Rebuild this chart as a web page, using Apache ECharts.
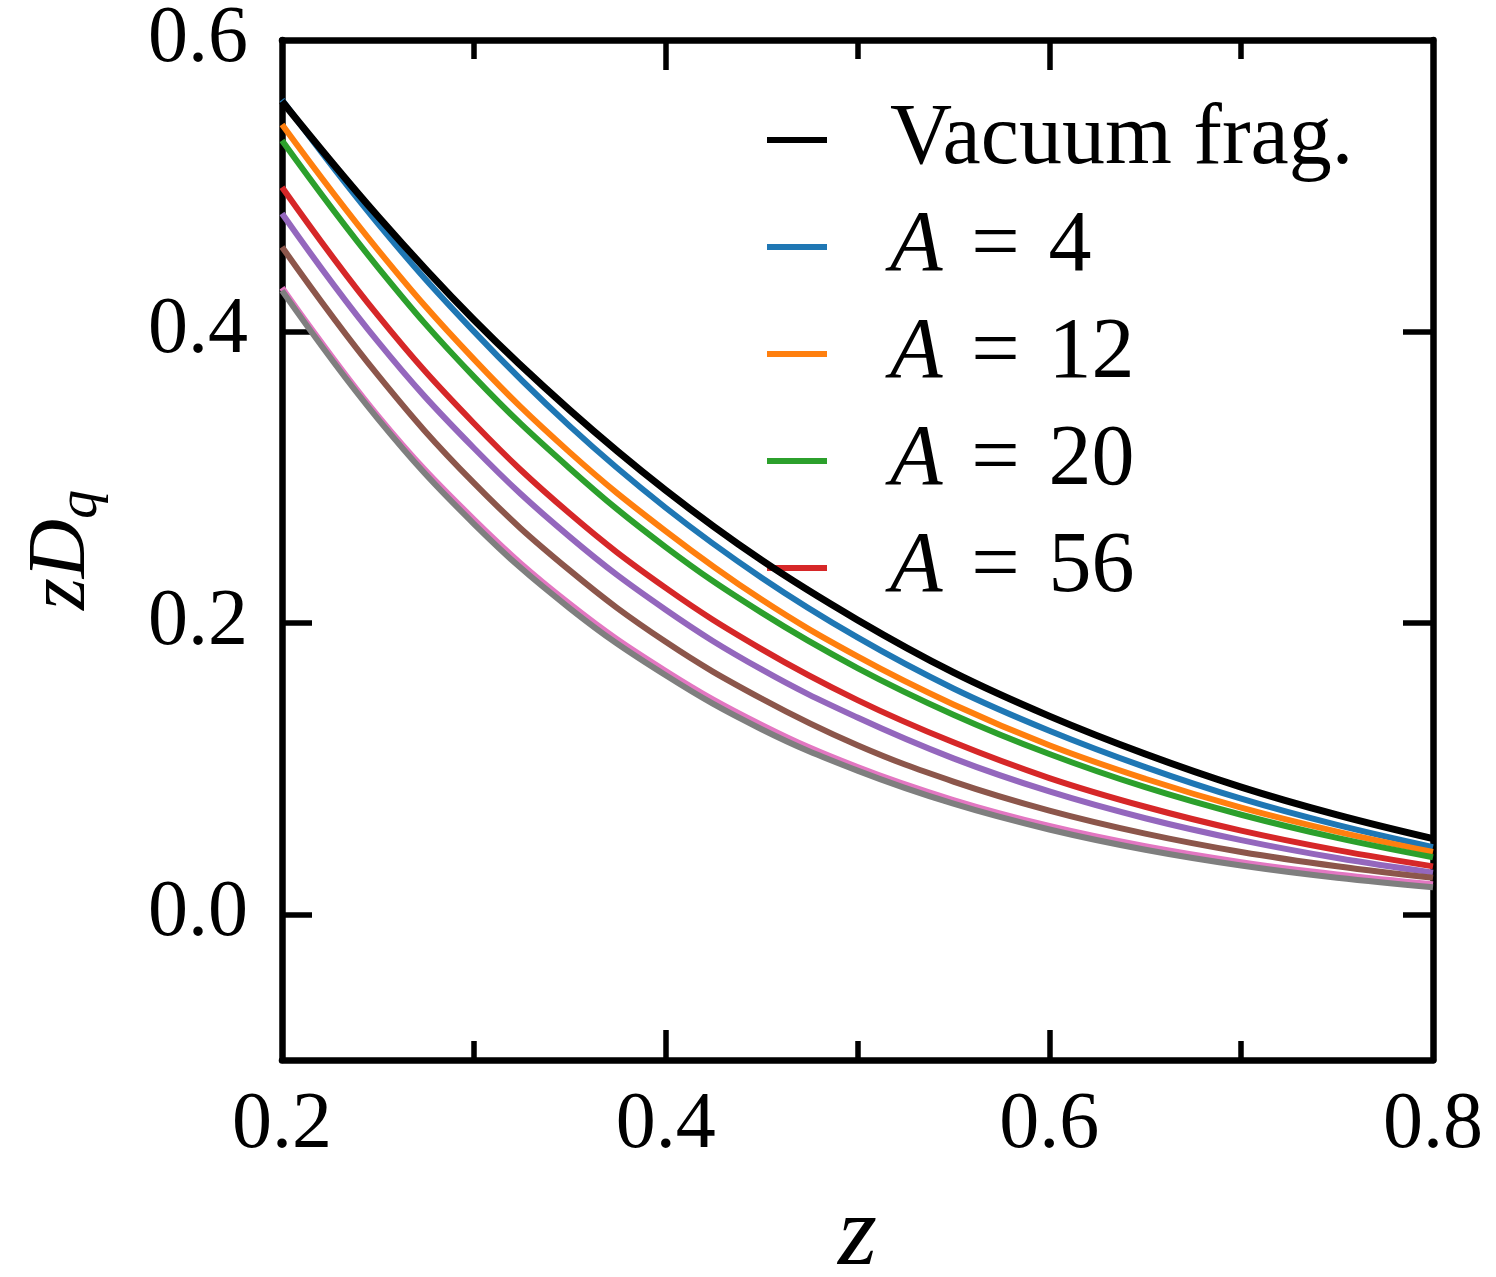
<!DOCTYPE html>
<html>
<head>
<meta charset="utf-8">
<script src="https://cdn.jsdelivr.net/npm/echarts@6/dist/echarts.min.js"></script>
<style>
html,body{margin:0;padding:0;background:#fff;}
#chart{width:1496px;height:1277px;}
</style>
</head>
<body>
<div id="chart"></div>
<script>
// z grid
const zValues = [0.20, 0.25, 0.30, 0.35, 0.40, 0.45, 0.50, 0.55, 0.60, 0.65, 0.70, 0.75, 0.80];

// zD_q curves (smoothed readings)
const vacuum = [0.558, 0.479, 0.408, 0.346, 0.291, 0.243, 0.202, 0.166, 0.136, 0.110, 0.0873, 0.0682, 0.0519];
const a4     = [0.559, 0.474, 0.400, 0.335, 0.279, 0.231, 0.190, 0.155, 0.126, 0.101, 0.0793, 0.0613, 0.0461];
const a12    = [0.542, 0.456, 0.381, 0.317, 0.263, 0.216, 0.177, 0.144, 0.116, 0.0930, 0.0732, 0.0567, 0.0427];
const a20    = [0.531, 0.444, 0.369, 0.306, 0.252, 0.207, 0.169, 0.137, 0.110, 0.0872, 0.0683, 0.0524, 0.0391];
const a56    = [0.499, 0.411, 0.337, 0.275, 0.224, 0.182, 0.147, 0.118, 0.0935, 0.0738, 0.0574, 0.0440, 0.0329];
const purple = [0.481, 0.393, 0.320, 0.259, 0.209, 0.168, 0.135, 0.107, 0.0843, 0.0659, 0.0509, 0.0386, 0.0286];
const brown  = [0.458, 0.370, 0.296, 0.236, 0.187, 0.148, 0.116, 0.0911, 0.0712, 0.0554, 0.0428, 0.0330, 0.0251];
const pink   = [0.430, 0.342, 0.271, 0.213, 0.167, 0.130, 0.101, 0.0784, 0.0606, 0.0467, 0.0358, 0.0274, 0.0207];
const gray   = [0.428, 0.340, 0.268, 0.210, 0.164, 0.127, 0.0986, 0.0759, 0.0582, 0.0443, 0.0335, 0.0251, 0.0186];

const seriesNames = ['Vacuum frag.', 'A = 4', 'A = 12', 'A = 20', 'A = 56', 'curve 6', 'curve 7', 'curve 8', 'curve 9'];
const seriesColors = ['#000000', '#1f77b4', '#ff7f0e', '#2ca02c', '#d62728', '#9467bd', '#8c564b', '#e377c2', '#7f7f7f'];
const seriesValues = [vacuum, a4, a12, a20, a56, purple, brown, pink, gray];
const legendNames = ['Vacuum frag.', 'A = 4', 'A = 12', 'A = 20', 'A = 56'];

const xTickLabels = [0.2, 0.4, 0.6, 0.8];
const yTickLabels = [0.0, 0.2, 0.4, 0.6];

const FONT = 'Liberation Serif';

const chart = echarts.init(document.getElementById('chart'), null, {renderer: 'canvas'});

function pairs(vals) { return zValues.map((z, i) => [z, vals[i]]); }

const series = seriesValues.map((vals, i) => ({
  name: seriesNames[i],
  type: 'line',
  data: pairs(vals),
  smooth: 0.4,
  symbol: 'none',
  lineStyle: {color: seriesColors[i], width: i === 0 ? 7 : 6},
  itemStyle: {color: seriesColors[i]},
  z: i === 0 ? 20 : 2 + i,
  animation: false
}));

const tickStyle = {color: '#000', width: 5.5};

const option = {
  backgroundColor: '#fff',
  animation: false,
  grid: {left: 282, right: 63, top: 40, bottom: 217, containLabel: false, outerBoundsMode: 'none'},
  legend: {
    data: legendNames,
    left: 767,
    top: 97,
    orient: 'vertical',
    padding: 0,
    icon: 'rect',
    itemWidth: 60,
    itemHeight: 6,
    itemGap: 21,
    selectedMode: false,
    formatter: name => name.startsWith('A') ? '{i|A}\u2004=\u2004' + name.slice(4) : name,
    textStyle: {
      fontFamily: FONT, fontSize: 86, color: '#000', lineHeight: 80,
      padding: [0, 0, 0, 58],
      rich: {i: {fontFamily: FONT, fontSize: 86, fontStyle: 'italic', color: '#000', lineHeight: 80}}
    }
  },
  xAxis: [
    {
      type: 'value', min: 0.2, max: 0.8, interval: 0.2, position: 'bottom',
      axisLine: {show: true, onZero: false, lineStyle: {color: '#000', width: 6.5}},
      axisTick: {show: true, inside: true, length: 30, lineStyle: tickStyle, customValues: [0.4, 0.6]},
      minorTick: {show: true, splitNumber: 2, length: 19, lineStyle: tickStyle},
      axisLabel: {show: true, margin: 26, fontFamily: FONT, fontSize: 80, color: '#000',
        customValues: xTickLabels, formatter: v => Number(v).toFixed(1)},
      splitLine: {show: false},
      minorSplitLine: {show: false},
      name: 'z', nameLocation: 'middle', nameGap: 128,
      nameTextStyle: {fontFamily: FONT, fontSize: 100, fontStyle: 'italic', color: '#000'}
    },
    {
      type: 'value', min: 0.2, max: 0.8, interval: 0.2, position: 'top',
      axisLine: {show: true, onZero: false, lineStyle: {color: '#000', width: 6.5}},
      axisTick: {show: true, inside: true, length: 30, lineStyle: tickStyle, customValues: [0.4, 0.6]},
      minorTick: {show: true, splitNumber: 2, length: 19, lineStyle: tickStyle},
      axisLabel: {show: false},
      splitLine: {show: false}
    }
  ],
  yAxis: [
    {
      type: 'value', min: -0.1, max: 0.6, interval: 0.1, position: 'left',
      axisLine: {show: true, onZero: false, lineStyle: {color: '#000', width: 6.5}},
      axisTick: {show: true, inside: true, length: 30, lineStyle: tickStyle, customValues: [0.0, 0.2, 0.4]},
      axisLabel: {show: true, margin: 34, fontFamily: FONT, fontSize: 80, color: '#000',
        customValues: yTickLabels, formatter: v => Number(v).toFixed(1)},
      splitLine: {show: false},
      name: '{a|zD}{b|q}', nameLocation: 'middle', nameRotate: 90, nameGap: 172,
      nameTextStyle: {
        rich: {
          a: {fontFamily: FONT, fontSize: 82, fontStyle: 'italic', color: '#000', lineHeight: 96},
          b: {fontFamily: FONT, fontSize: 58, fontStyle: 'italic', color: '#000', lineHeight: 96, verticalAlign: 'bottom'}
        }
      }
    },
    {
      type: 'value', min: -0.1, max: 0.6, interval: 0.1, position: 'right',
      axisLine: {show: true, onZero: false, lineStyle: {color: '#000', width: 6.5}},
      axisTick: {show: true, inside: true, length: 30, lineStyle: tickStyle, customValues: [0.0, 0.2, 0.4]},
      axisLabel: {show: false},
      splitLine: {show: false}
    }
  ],
  series: series
};

chart.setOption(option);
</script>
</body>
</html>
